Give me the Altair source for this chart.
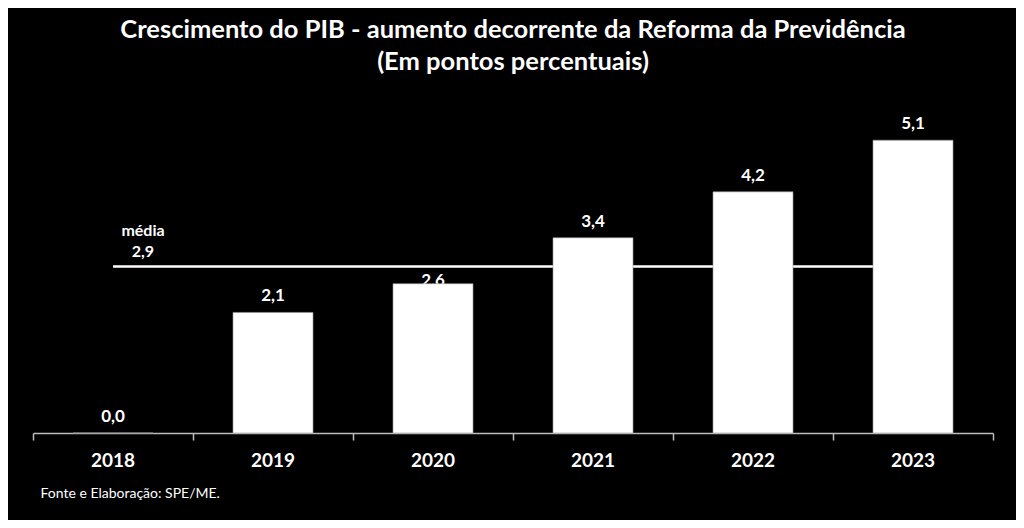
import altair as alt
import pandas as pd

years = ["2018", "2019", "2020", "2021", "2022", "2023"]
values = [0.0, 2.1, 2.6, 3.4, 4.2, 5.1]
value_labels = ["0,0", "2,1", "2,6", "3,4", "4,2", "5,1"]
mean_value = 2.9
mean_label = ["média", "2,9"]
title_lines = ["Crescimento do PIB - aumento decorrente da Reforma da Previdência",
               "(Em pontos percentuais)"]
source_note = "Fonte e Elaboração: SPE/ME."

df = pd.DataFrame({"year": years, "value": values, "label": value_labels,
                   "idx": list(range(len(years)))})
mean_df = pd.DataFrame({"start": [0.5], "end": [len(years) - 0.5],
                        "mean": [mean_value], "txt": [mean_label]})

FONT = "Lato"
xscale = alt.Scale(domain=[0, len(years)], nice=False, zero=False)
yscale = alt.Scale(domain=[0, 5.8], nice=False)
xaxis = alt.Axis(values=list(range(len(years) + 1)), labels=False, grid=False,
                 ticks=True, tickSize=7, tickColor="#bbbbbb", tickWidth=1.5,
                 domainColor="#bbbbbb", domainWidth=1.5,
                 title=source_note, titleColor="white", titleFont=FONT,
                 titleFontSize=14, titleFontWeight="normal",
                 titleAnchor="start", titleAlign="left", titleX=7, titleY=64,
                 titleBaseline="alphabetic")

base = alt.Chart(df).transform_calculate(
    x0="datum.idx + 0.25", x1="datum.idx + 0.75", xc="datum.idx + 0.5"
)

value_text = base.transform_filter("datum.year != '2020'").mark_text(
    color="white", font=FONT, fontSize=17, fontWeight="bold",
    baseline="alphabetic", dy=-11
).encode(
    x=alt.X("xc:Q", scale=xscale, axis=xaxis),
    y=alt.Y("value:Q", scale=yscale, axis=None),
    text="label:N",
)

value_text_2020 = base.transform_filter("datum.year == '2020'").mark_text(
    color="white", font=FONT, fontSize=17, fontWeight="bold",
    baseline="alphabetic", dy=2
).encode(
    x=alt.X("xc:Q", scale=xscale, axis=xaxis),
    y=alt.Y("value:Q", scale=yscale, axis=None),
    text="label:N",
)

mean_line = alt.Chart(mean_df).mark_rule(color="white", strokeWidth=2.5).encode(
    x=alt.X("start:Q", scale=xscale, axis=xaxis),
    x2="end:Q",
    y=alt.Y("mean:Q", scale=yscale, axis=None),
)

mean_text = alt.Chart(mean_df).mark_text(
    color="white", font=FONT, fontSize=16, fontWeight="bold",
    baseline="alphabetic", align="center", dx=30, dy=-31, lineHeight=21
).encode(
    x=alt.X("start:Q", scale=xscale, axis=xaxis),
    y=alt.Y("mean:Q", scale=yscale, axis=None),
    text="txt",
)

bars = base.mark_bar(color="white", stroke="#999999", strokeWidth=0.6).encode(
    x=alt.X("x0:Q", scale=xscale, axis=xaxis),
    x2="x1:Q",
    y=alt.Y("value:Q", scale=yscale, axis=None),
    y2=alt.datum(0),
)

year_text = base.mark_text(
    color="white", font=FONT, fontSize=19, fontWeight="bold",
    baseline="middle", dy=28
).encode(
    x=alt.X("xc:Q", scale=xscale, axis=xaxis),
    y=alt.datum(0),
    text="year:N",
)

chart = alt.layer(
    value_text, value_text_2020, mean_line, mean_text, bars, year_text
).properties(
    width=960, height=333,
    autosize=alt.AutoSizeParams(type="none"),
    padding={"left": 25, "top": 92, "right": 23, "bottom": 87},
    background="black",
    title=alt.TitleParams(title_lines, color="white", font=FONT, fontSize=25.5,
                          fontWeight="bold", lineHeight=32, offset=25,
                          anchor="middle"),
).configure_view(strokeWidth=0)

chart.save("out.html", embed_options={"renderer": "svg", "actions": False})
